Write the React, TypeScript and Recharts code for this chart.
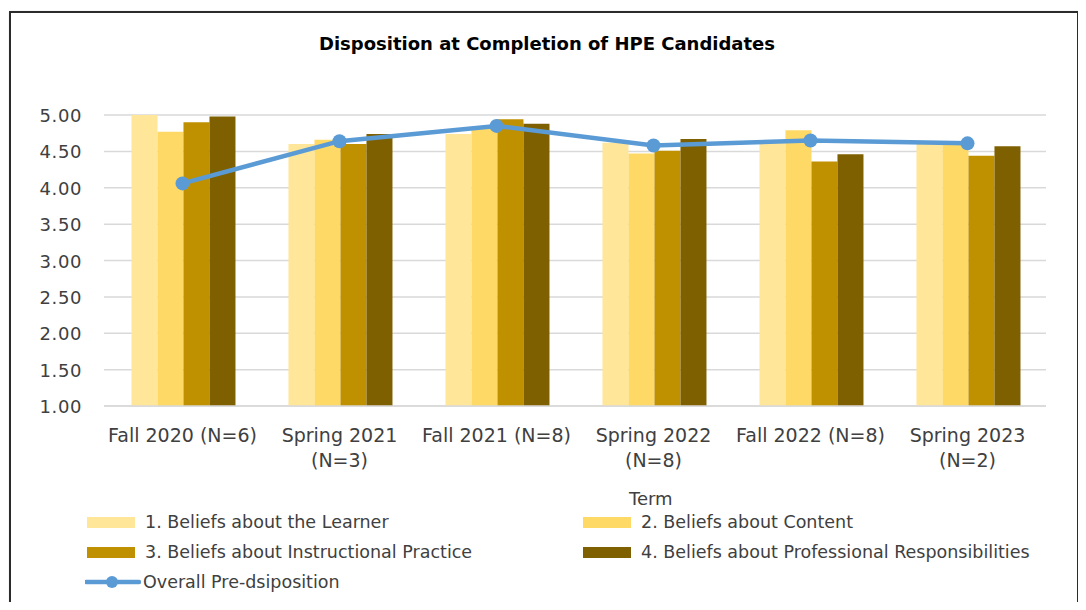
import React from 'react';
import { ComposedChart, Bar, Line, XAxis, YAxis, CartesianGrid } from 'recharts';

const categories = ['Fall 2020 (N=6)', 'Spring 2021\n(N=3)', 'Fall 2021 (N=8)', 'Spring 2022\n(N=8)', 'Fall 2022 (N=8)', 'Spring 2023\n(N=2)'];
const learner = [5.0, 4.6, 4.74, 4.62, 4.63, 4.62];
const content = [4.77, 4.66, 4.81, 4.47, 4.79, 4.62];
const instructional = [4.9, 4.6, 4.94, 4.51, 4.36, 4.44];
const professional = [4.98, 4.74, 4.88, 4.67, 4.46, 4.57];
const overall = [4.06, 4.64, 4.85, 4.58, 4.65, 4.61];
const yTicks = [1, 1.5, 2, 2.5, 3, 3.5, 4, 4.5, 5];

const seriesNames = [
  '1. Beliefs about the Learner',
  '2. Beliefs about Content',
  '3. Beliefs about Instructional Practice',
  '4. Beliefs about Professional Responsibilities',
  'Overall Pre-dsiposition',
];
const colors = ['#FFE699', '#FFD966', '#BF9000', '#7F6000', '#5B9BD5'];

const data = categories.map((c, i) => ({
  term: c,
  s1: learner[i],
  s2: content[i],
  s3: instructional[i],
  s4: professional[i],
  overall: overall[i],
}));

const FONT = '"DejaVu Sans", sans-serif';

const XTick = (props: any) => {
  const { x, y, payload } = props;
  const lines = String(payload.value).split('\n');
  return (
    <text x={x} textAnchor="middle" fontFamily={FONT} fontSize={19} fill="#404040">
      {lines.map((l, i) => (
        <tspan key={i} x={x} y={y + 28 + i * 25}>{l}</tspan>
      ))}
    </text>
  );
};

const YTick = (props: any) => {
  const { x, y, payload } = props;
  return (
    <text x={x} y={y + 7} textAnchor="end" fontFamily={FONT} fontSize={18} letterSpacing={0.6} fill="#404040">
      {Number(payload.value).toFixed(2)}
    </text>
  );
};

const LegendItem = ({ i, left, top }: { i: number; left: number; top: number }) => (
  <div style={{ position: 'absolute', left, top, height: 20, display: 'flex', alignItems: 'center' }}>
    {i < 4 ? (
      <div style={{ width: 48, height: 11, background: colors[i], marginRight: 10 }} />
    ) : (
      <svg width={56} height={20} style={{ marginRight: 2 }}>
        <line x1={1} y1={10} x2={54} y2={10} stroke={colors[4]} strokeWidth={4.5} strokeLinecap="round" />
        <circle cx={27} cy={10} r={6} fill={colors[4]} />
      </svg>
    )}
    <span style={{ fontFamily: FONT, fontSize: 17.5, color: '#404040', whiteSpace: 'nowrap' }}>{seriesNames[i]}</span>
  </div>
);

export default function App() {
  return (
    <div style={{ position: 'relative', width: 1086, height: 610, margin: -8, background: '#fff', overflow: 'hidden' }}>
      <div style={{ position: 'absolute', left: 9, top: 11, width: 1066, height: 620, border: '2px solid #2b2b2b', boxShadow: '1px 1px 2px #888' }} />
      <div style={{ position: 'absolute', left: 0, top: 33, width: 1094, textAlign: 'center', fontFamily: FONT, fontWeight: 'bold', fontSize: 18, color: '#000' }}>
        Disposition at Completion of HPE Candidates
      </div>
      <div style={{ position: 'absolute', left: 0, top: 0 }}>
        <ComposedChart
          width={1086}
          height={610}
          data={data}
          margin={{ top: 115, right: 40, bottom: 164, left: 0 }}
          barCategoryGap="17.5%"
          barGap={0}
        >
          <CartesianGrid vertical={false} stroke="#D9D9D9" strokeWidth={1.5} />
          <XAxis dataKey="term" height={40} tickLine={false} axisLine={{ stroke: '#D9D9D9', strokeWidth: 1.5 }} tick={<XTick />} interval={0} />
          <YAxis domain={[1, 5]} ticks={yTicks} width={104} tickLine={false} axisLine={false} tickMargin={16} tick={<YTick />} />
          <Bar dataKey="s1" fill={colors[0]} isAnimationActive={false} />
          <Bar dataKey="s2" fill={colors[1]} isAnimationActive={false} />
          <Bar dataKey="s3" fill={colors[2]} isAnimationActive={false} />
          <Bar dataKey="s4" fill={colors[3]} isAnimationActive={false} />
          <Line
            dataKey="overall"
            stroke={colors[4]}
            strokeWidth={4.5}
            dot={{ r: 7, fill: colors[4], stroke: colors[4], strokeWidth: 0 }}
            isAnimationActive={false}
          />
        </ComposedChart>
      </div>
      <div style={{ position: 'absolute', left: 629, top: 488, fontFamily: FONT, fontSize: 18, color: '#404040' }}>Term</div>
      <LegendItem i={0} left={87} top={512} />
      <LegendItem i={1} left={583} top={512} />
      <LegendItem i={2} left={87} top={542} />
      <LegendItem i={3} left={583} top={542} />
      <LegendItem i={4} left={85} top={572} />
    </div>
  );
}
